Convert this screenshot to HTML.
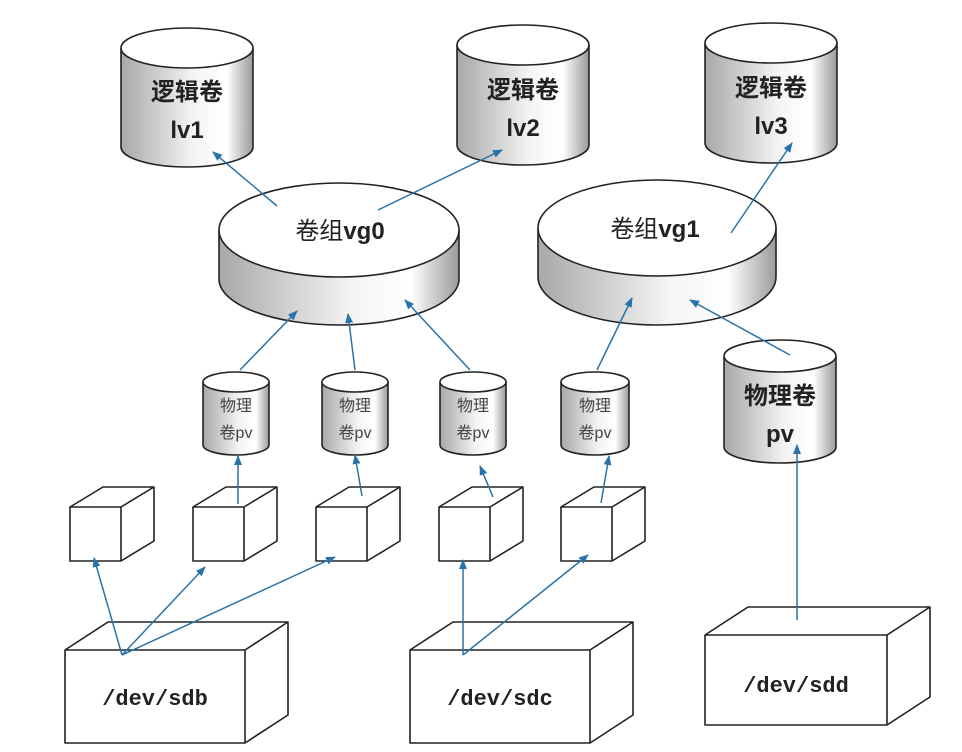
<!DOCTYPE html>
<html><head><meta charset="utf-8"><style>
html,body{margin:0;padding:0;background:#fff;}
svg{display:block;}
text{font-family:"Liberation Sans","Noto Sans CJK SC",sans-serif;}
</style></head><body>
<svg width="962" height="752" viewBox="0 0 962 752" xmlns="http://www.w3.org/2000/svg">
<defs>
<linearGradient id="g" x1="0" x2="1" y1="0" y2="0">
<stop offset="0" stop-color="#a8a8a8"/><stop offset="0.55" stop-color="#f4f4f4"/><stop offset="0.8" stop-color="#ffffff"/><stop offset="1" stop-color="#9a9a9a"/>
</linearGradient>
<marker id="a" markerWidth="10" markerHeight="8" refX="9" refY="4" orient="auto" markerUnits="userSpaceOnUse">
<path d="M0,0 L10,4 L0,8 Z" fill="#2a73a8"/>
</marker>
</defs>
<g stroke="#222" stroke-width="1.6">
<path d="M121,48 V147 A66,20 0 0 0 253,147 V48" fill="url(#g)"/><ellipse cx="187" cy="48" rx="66" ry="20" fill="#fff"/>
<path d="M457,45 V145 A66,20 0 0 0 589,145 V45" fill="url(#g)"/><ellipse cx="523" cy="45" rx="66" ry="20" fill="#fff"/>
<path d="M705,43 V143 A66,20 0 0 0 837,143 V43" fill="url(#g)"/><ellipse cx="771" cy="43" rx="66" ry="20" fill="#fff"/>
<path d="M219,230 V279 A120,46 0 0 0 459,279 V230" fill="url(#g)"/><ellipse cx="339" cy="230" rx="120" ry="47" fill="#fff"/>
<path d="M538,228 V277 A119,48 0 0 0 776,277 V228" fill="url(#g)"/><ellipse cx="657" cy="228" rx="119" ry="48" fill="#fff"/>
<path d="M203,382 V445 A33,10 0 0 0 269,445 V382" fill="url(#g)"/><ellipse cx="236" cy="382" rx="33" ry="10" fill="#fff"/>
<path d="M322,382 V445 A33,10 0 0 0 388,445 V382" fill="url(#g)"/><ellipse cx="355" cy="382" rx="33" ry="10" fill="#fff"/>
<path d="M440,382 V445 A33,10 0 0 0 506,445 V382" fill="url(#g)"/><ellipse cx="473" cy="382" rx="33" ry="10" fill="#fff"/>
<path d="M561,382 V445 A34,10 0 0 0 629,445 V382" fill="url(#g)"/><ellipse cx="595" cy="382" rx="34" ry="10" fill="#fff"/>
<path d="M724,356 V447 A56,16 0 0 0 836,447 V356" fill="url(#g)"/><ellipse cx="780" cy="356" rx="56" ry="16" fill="#fff"/>
</g>
<g fill="#fff" stroke="#222" stroke-width="1.6" stroke-linejoin="round">
<path d="M70,507 L103,487 H154 V541 L121,561 H70 Z M70,507 H121 L154,487 M121,507 V561"/>
<path d="M193,507 L226,487 H277 V541 L244,561 H193 Z M193,507 H244 L277,487 M244,507 V561"/>
<path d="M316,507 L349,487 H400 V541 L367,561 H316 Z M316,507 H367 L400,487 M367,507 V561"/>
<path d="M439,507 L472,487 H523 V541 L490,561 H439 Z M439,507 H490 L523,487 M490,507 V561"/>
<path d="M561,507 L594,487 H645 V541 L612,561 H561 Z M561,507 H612 L645,487 M612,507 V561"/>
<path d="M65,650 L108,622 H288 V715 L245,743 H65 Z M65,650 H245 L288,622 M245,650 V743"/>
<path d="M410,650 L453,622 H633 V715 L590,743 H410 Z M410,650 H590 L633,622 M590,650 V743"/>
<path d="M705,635 L748,607 H930 V697 L887,725 H705 Z M705,635 H887 L930,607 M887,635 V725"/>
</g>
<g stroke="#2a73a8" stroke-width="1.5" fill="none" marker-end="url(#a)">
<line x1="277" y1="206" x2="213" y2="152"/>
<line x1="378" y1="210" x2="502" y2="150"/>
<line x1="731" y1="233" x2="792" y2="143"/>
<line x1="240" y1="370" x2="297" y2="311"/>
<line x1="355" y1="370" x2="348" y2="314"/>
<line x1="470" y1="370" x2="405" y2="300"/>
<line x1="597" y1="370" x2="632" y2="298"/>
<line x1="790" y1="355" x2="690" y2="300"/>
<line x1="238" y1="504" x2="238" y2="456"/>
<line x1="362" y1="496" x2="355" y2="455"/>
<line x1="493" y1="497" x2="480" y2="466"/>
<line x1="601" y1="503" x2="609" y2="456"/>
<line x1="122" y1="655" x2="94" y2="558"/>
<line x1="122" y1="655" x2="205" y2="567"/>
<line x1="122" y1="655" x2="335" y2="557"/>
<line x1="463" y1="655" x2="463" y2="560"/>
<line x1="463" y1="655" x2="588" y2="555"/>
<line x1="797" y1="620" x2="797" y2="445"/>
</g>
<g font-weight="bold" font-size="24" fill="#222" text-anchor="middle">
<text x="187" y="100">逻辑卷</text><text x="187" y="138">lv1</text>
<text x="523" y="98">逻辑卷</text><text x="523" y="136">lv2</text>
<text x="771" y="96">逻辑卷</text><text x="771" y="134">lv3</text>
<text x="780" y="404">物理卷</text><text x="780" y="442">pv</text>
</g>
<g font-size="24" fill="#222" text-anchor="middle">
<text x="340" y="239">卷组<tspan font-weight="bold">vg0</tspan></text>
<text x="655" y="237">卷组<tspan font-weight="bold">vg1</tspan></text>
</g>
<g font-size="16" fill="#444" text-anchor="middle">
<text x="236" y="411">物理</text><text x="236" y="438">卷pv</text>
<text x="355" y="411">物理</text><text x="355" y="438">卷pv</text>
<text x="473" y="411">物理</text><text x="473" y="438">卷pv</text>
<text x="595" y="411">物理</text><text x="595" y="438">卷pv</text>
</g>
<g font-weight="bold" fill="#222" text-anchor="middle">
<text x="155" y="705" style="font-family:'Liberation Mono',monospace;font-size:22px;font-weight:bold">/dev/sdb</text>
<text x="500" y="705" style="font-family:'Liberation Mono',monospace;font-size:22px;font-weight:bold">/dev/sdc</text>
<text x="796" y="692" style="font-family:'Liberation Mono',monospace;font-size:22px;font-weight:bold">/dev/sdd</text>
</g>
</svg>
</body></html>
